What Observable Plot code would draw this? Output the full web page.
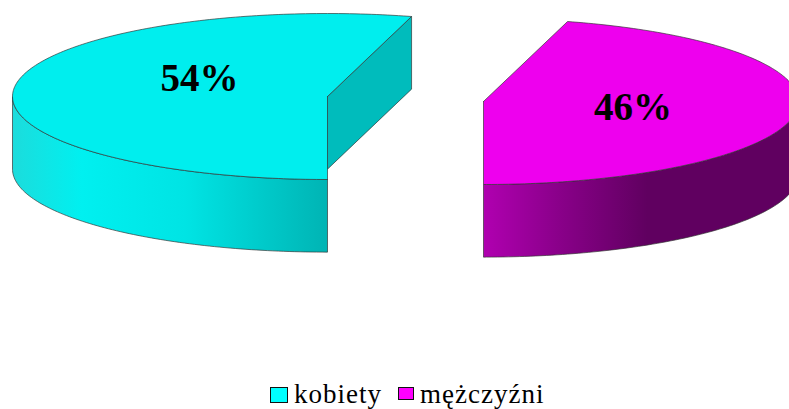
<!DOCTYPE html>
<html lang="pl">
<head>
<meta charset="utf-8">
<script src="https://cdn.jsdelivr.net/npm/d3@7"></script>
<script src="https://cdn.jsdelivr.net/npm/@observablehq/plot@0.6"></script>
<style>
html,body{margin:0;padding:0;background:#fff;width:789px;height:409px;overflow:hidden}
#chart svg{display:block}
#legend{position:relative;width:789px;height:34px;font-family:"Liberation Serif",serif;font-size:27px;letter-spacing:1px;color:#000}
#legend i{position:absolute;top:11.5px;box-sizing:border-box;border:1.5px solid #111}
#legend span{position:absolute;top:4px;line-height:30px;white-space:nowrap}
</style>
</head>
<body>
<div id="chart"></div>
<div id="legend"></div>
<script>
const categories = ["kobiety", "mężczyźni"];
const shares = [54.3, 45.7];
const topColors = ["#00eeee", "#ee00ee"];
const edgeColors = ["#00bcbc", "#8a008a"];
const legendColors = ["#00ffff", "#ff00ff"];
const gradientColors = [
  [["0%", "#1cdcdc"], ["22%", "#00f0f0"], ["55%", "#00e4e4"], ["100%", "#00b4b4"]],
  [["0%", "#b000b0"], ["25%", "#880088"], ["52%", "#600060"], ["100%", "#600060"]]
];
const startAngle = 180;
const centers = [[0, 0], [156 / 315, 5 / 83]];
const depth = 0.875;
const labelNudges = [[12.5, -13], [9, 1]];
const legendLayout = [{box: 270, size: 18, text: 294}, {box: 398, size: 15.5, text: 420}];

const rad = d => d * Math.PI / 180;
let cursor = startAngle;
const slices = categories.map((name, i) => {
  const a0 = cursor, a1 = cursor + shares[i] * 3.6;
  cursor = a1;
  return {name, i, a0, a1, c: centers[i], share: shares[i]};
});
// y grows downward on screen: the top of the pie is at negative y
const rim = (s, t, dz = 0) => ({x: s.c[0] + Math.sin(rad(t)), y: s.c[1] - Math.cos(rad(t)) + dz});
const angles = s => [...d3.range(s.a0, s.a1, 1), s.a1];

const topFace = s => {
  const pts = [{x: s.c[0], y: s.c[1]}, ...angles(s).map(t => rim(s, t))];
  return [...pts, pts[0]];
};
const sideFace = s => {
  const front = angles(s).filter(t => Math.cos(rad(t)) <= 0);
  const pts = [...front.map(t => rim(s, t)), ...front.slice().reverse().map(t => rim(s, t, depth))];
  return [...pts, pts[0]];
};
// radial cut face of the first slice, seen through the opening
const cutFace = s => {
  const a = {x: s.c[0], y: s.c[1]}, b = rim(s, s.a1);
  return [a, b, {x: b.x, y: b.y + depth}, {x: a.x, y: a.y + depth}, a];
};

const defs = () => {
  const d = d3.create("svg:defs");
  gradientColors.forEach((stops, i) => {
    const g = d.append("linearGradient").attr("id", "side" + i).attr("x1", 0).attr("x2", 1).attr("y1", 0).attr("y2", 0);
    stops.forEach(([o, c]) => g.append("stop").attr("offset", o).attr("stop-color", c));
  });
  return d.node();
};
const edge = {stroke: "#333", strokeWidth: 0.9, strokeOpacity: 0.75, strokeLinejoin: "round"};

const plot = Plot.plot({
  width: 789, height: 375,
  margin: 0,
  x: {axis: null, domain: [-327 / 315, 462 / 315], range: [0, 789]},
  y: {axis: null, domain: [-96 / 83, 279 / 83], range: [0, 375]},
  marks: [
    defs,
    Plot.line(cutFace(slices[0]), {x: "x", y: "y", fill: edgeColors[0], ...edge}),
    ...slices.map(s => Plot.line(sideFace(s), {x: "x", y: "y", fill: `url(#side${s.i})`, ...edge})),
    ...slices.map(s => Plot.line(topFace(s), {x: "x", y: "y", fill: topColors[s.i], ...edge})),
    ...slices.map(s => {
      const mid = (s.a0 + s.a1) / 2;
      return Plot.text([s], {
        x: d => d.c[0] + 0.45 * Math.sin(rad(mid)),
        y: d => d.c[1] - 0.45 * Math.cos(rad(mid)),
        text: d => Math.round(d.share) + "%",
        dx: labelNudges[s.i][0], dy: labelNudges[s.i][1],
        fontFamily: "Liberation Serif", fontWeight: "bold", fontSize: 39, fill: "#000",
        textAnchor: "middle", lineAnchor: "middle"
      });
    })
  ]
});
document.getElementById("chart").append(plot);

const legend = d3.select("#legend");
categories.forEach((name, i) => {
  const l = legendLayout[i];
  legend.append("i").style("left", l.box + "px").style("width", l.size + "px").style("height", l.size - 2 + "px").style("background", legendColors[i]);
  legend.append("span").style("left", l.text + "px").text(name);
});
</script>
</body>
</html>
